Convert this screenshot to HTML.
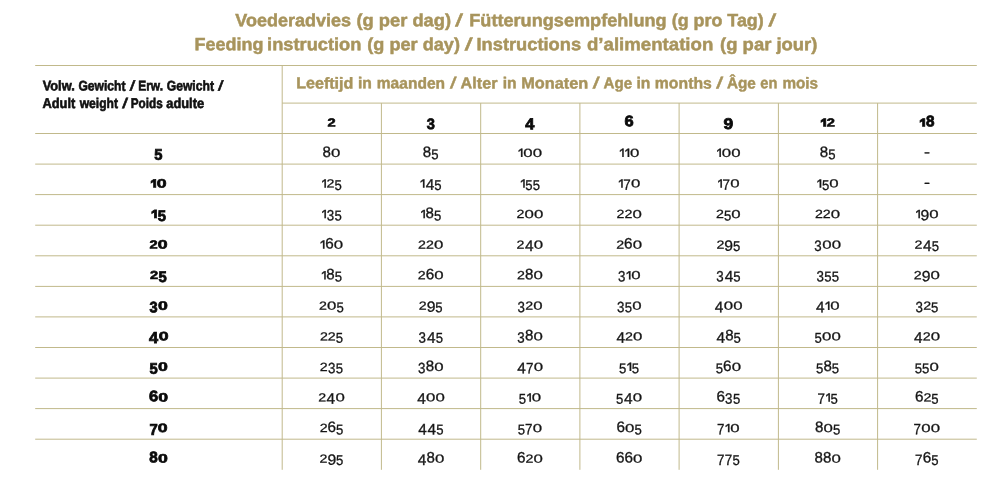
<!DOCTYPE html>
<html><head><meta charset="utf-8"><title>Voederadvies</title>
<style>
html,body{margin:0;padding:0;background:#fff}
#pg{position:relative;width:1008px;height:480px;background:#fff;overflow:hidden;font-family:"Liberation Sans",sans-serif;color:#161616}
#pg svg{position:absolute;left:0;top:0}
#tx{position:absolute;left:0;top:0;width:1008px;height:480px;will-change:transform;mix-blend-mode:multiply;text-rendering:geometricPrecision;filter:blur(.3px)}
.w{position:absolute;left:0;top:0;white-space:pre;transform-origin:0 0}
.t1{font-size:18px;line-height:18px;font-weight:bold;color:#a8945c;-webkit-text-stroke:.5px #a8945c}
.h1{font-size:16px;line-height:16px;font-weight:bold;color:#a8945c;-webkit-text-stroke:.45px #a8945c}
.l1{font-size:13.8px;line-height:14px;font-weight:bold;color:#111;-webkit-text-stroke:.6px #111}
.n{position:absolute;left:0;top:0;width:0;height:0}
.n span{position:absolute;left:0;top:0;font-size:14px;line-height:14px;transform-origin:0 0;white-space:pre;-webkit-text-stroke:0.30px #161616}
.k{font-weight:bold;color:#0a0a0a}
.k span{-webkit-text-stroke:0.70px #0a0a0a}
</style></head><body><div id="pg">
<svg width="1008" height="480" viewBox="0 0 1008 480">
<g stroke="#c1b98b" stroke-width="1" fill="none">
<path d="M35.2 65.5H976.8"/>
<path d="M282.2 103.1H976.8"/>
<path d="M35.2 133.5H976.8"/>
<path d="M35.2 164.1H976.8"/>
<path d="M35.2 194.6H976.8"/>
<path d="M35.2 225.2H976.8"/>
<path d="M35.2 255.8H976.8"/>
<path d="M35.2 286.4H976.8"/>
<path d="M35.2 316.9H976.8"/>
<path d="M35.2 347.5H976.8"/>
<path d="M35.2 378.1H976.8"/>
<path d="M35.2 408.6H976.8"/>
<path d="M35.2 439.2H976.8"/>
<path d="M282.2 65.5V469.8"/>
<path d="M381.4 103.1V469.8"/>
<path d="M480.7 103.1V469.8"/>
<path d="M579.9 103.1V469.8"/>
<path d="M679.1 103.1V469.8"/>
<path d="M778.4 103.1V469.8"/>
<path d="M877.6 103.1V469.8"/>
</g></svg>
<div id="tx">
<div class="ln"><span class="w t1" style="transform:matrix(1.0009,.001,0,0.985,235.25,11.38)">Voederadvies</span> <span class="w t1" style="transform:matrix(1.0185,.001,0,0.985,356.39,11.38)">(g per dag)</span> <span class="w t1" style="transform:matrix(1.1692,.001,-0.18,0.985,457.81,11.38)">/</span> <span class="w t1" style="transform:matrix(1.0070,.001,0,0.985,469.24,11.38)">Fütterungsempfehlung</span> <span class="w t1" style="transform:matrix(0.9934,.001,0,0.985,671.70,11.38)">(g pro Tag)</span> <span class="w t1" style="transform:matrix(1.1692,.001,-0.18,0.985,770.91,11.38)">/</span></div>
<div class="ln"><span class="w t1" style="transform:matrix(0.9985,.001,0,0.985,194.60,35.48)">Feeding</span> <span class="w t1" style="transform:matrix(1.0137,.001,0,0.985,267.09,35.48)">instruction</span> <span class="w t1" style="transform:matrix(1.0071,.001,0,0.985,367.25,35.48)">(g per day)</span> <span class="w t1" style="transform:matrix(1.2073,.001,-0.18,0.985,467.21,35.48)">/</span> <span class="w t1" style="transform:matrix(1.0158,.001,0,0.985,476.48,35.48)">Instructions</span> <span class="w t1" style="transform:matrix(1.0352,.001,0,0.985,586.98,35.48)">d’alimentation</span> <span class="w t1" style="transform:matrix(1.0245,.001,0,0.985,720.09,35.48)">(g par jour)</span></div>
<div class="ln"><span class="w h1" style="transform:matrix(1.0063,.001,0,0.985,296.15,76.54)">Leeftijd</span> <span class="w h1" style="transform:matrix(0.9804,.001,0,0.985,358.01,76.54)">in</span> <span class="w h1" style="transform:matrix(0.9731,.001,0,0.985,376.77,76.54)">maanden</span> <span class="w h1" style="transform:matrix(1.1224,.001,-0.18,0.985,452.01,76.54)">/</span> <span class="w h1" style="transform:matrix(1.0110,.001,0,0.985,460.60,76.54)">Alter</span> <span class="w h1" style="transform:matrix(0.9804,.001,0,0.985,502.76,76.54)">in</span> <span class="w h1" style="transform:matrix(1.0210,.001,0,0.985,521.13,76.54)">Monaten</span> <span class="w h1" style="transform:matrix(1.2002,.001,-0.18,0.985,594.76,76.54)">/</span> <span class="w h1" style="transform:matrix(0.9467,.001,0,0.985,603.50,76.54)">Age</span> <span class="w h1" style="transform:matrix(0.9843,.001,0,0.985,636.46,76.54)">in</span> <span class="w h1" style="transform:matrix(0.9850,.001,0,0.985,654.86,76.54)">months</span> <span class="w h1" style="transform:matrix(1.2002,.001,-0.18,0.985,718.26,76.54)">/</span> <span class="w h1" style="transform:matrix(0.9567,.001,0,0.985,726.90,76.54)">Âge</span> <span class="w h1" style="transform:matrix(0.9183,.001,0,0.985,760.37,76.54)">en</span> <span class="w h1" style="transform:matrix(0.9559,.001,0,0.985,782.38,76.54)">mois</span></div>
<div class="ln"><span class="w l1" style="transform:matrix(0.9299,.001,0,1.020,42.63,79.36)">Volw.</span> <span class="w l1" style="transform:matrix(0.8766,.001,0,1.020,78.38,79.36)">Gewicht</span> <span class="w l1" style="transform:matrix(1.0883,.001,-0.18,1.020,131.36,79.36)">/</span> <span class="w l1" style="transform:matrix(0.8655,.001,0,1.020,138.17,79.36)">Erw.</span> <span class="w l1" style="transform:matrix(0.8804,.001,0,1.020,166.68,79.36)">Gewicht</span> <span class="w l1" style="transform:matrix(1.0883,.001,-0.18,1.020,219.61,79.36)">/</span></div>
<div class="ln"><span class="w l1" style="transform:matrix(0.9324,.001,0,1.020,42.40,96.66)">Adult</span> <span class="w l1" style="transform:matrix(0.8757,.001,0,1.020,79.69,96.66)">weight</span> <span class="w l1" style="transform:matrix(1.1471,.001,-0.18,1.020,123.87,96.66)">/</span> <span class="w l1" style="transform:matrix(0.8517,.001,0,1.020,130.67,96.66)">Poids</span> <span class="w l1" style="transform:matrix(0.9321,.001,0,1.020,166.25,96.66)">adulte</span></div>
<div class="n k"><span style="transform:matrix(1.048,.001,0,0.831,327.45,116.54)">2</span></div>
<div class="n k"><span style="transform:matrix(1.045,.001,0,1.082,426.77,116.07)">3</span></div>
<div class="n k"><span style="transform:matrix(1.171,.001,0,1.132,525.34,115.61)">4</span></div>
<div class="n k"><span style="transform:matrix(1.178,.001,0,1.093,624.61,113.25)">6</span></div>
<div class="n k"><span style="transform:matrix(1.243,.001,0,1.103,723.62,115.83)">9</span></div>
<div class="n k"><span style="clip-path:inset(0 0 4.48px 0);transform:matrix(1.115,.001,0,1.146,819.99,115.89)">1</span><span style="transform:matrix(1.048,.001,0,0.831,826.87,116.54)">2</span></div>
<div class="n k"><span style="clip-path:inset(0 0 4.48px 0);transform:matrix(1.115,.001,0,1.146,918.99,115.89)">1</span><span style="transform:matrix(1.091,.001,0,1.093,925.92,113.25)">8</span></div>
<div class="n k"><span style="transform:matrix(1.057,.001,0,1.099,154.36,146.58)">5</span></div>
<div class="n"><span style="transform:matrix(1.077,.001,0,1.087,322.55,143.85)">8</span><span style="transform:matrix(1.201,.001,0,0.847,331.06,146.84)">0</span></div>
<div class="n"><span style="transform:matrix(1.077,.001,0,1.087,422.85,143.85)">8</span><span style="transform:matrix(0.937,.001,0,1.023,431.26,147.03)">5</span></div>
<div class="n"><span style="clip-path:inset(0 0 3.90px 0);transform:matrix(1.078,.001,0,1.065,517.29,146.34)">1</span><span style="transform:matrix(1.201,.001,0,0.847,523.25,146.84)">0</span><span style="transform:matrix(1.201,.001,0,0.847,532.75,146.84)">0</span></div>
<div class="n"><span style="clip-path:inset(0 0 3.90px 0);transform:matrix(1.078,.001,0,1.065,618.57,146.34)">1</span><span style="clip-path:inset(0 0 3.90px 0);transform:matrix(1.078,.001,0,1.065,623.97,146.34)">1</span><span style="transform:matrix(1.201,.001,0,0.847,629.93,146.84)">0</span></div>
<div class="n"><span style="clip-path:inset(0 0 3.90px 0);transform:matrix(1.078,.001,0,1.065,715.75,146.34)">1</span><span style="transform:matrix(1.201,.001,0,0.847,721.71,146.84)">0</span><span style="transform:matrix(1.201,.001,0,0.847,731.21,146.84)">0</span></div>
<div class="n"><span style="transform:matrix(1.077,.001,0,1.087,819.77,143.85)">8</span><span style="transform:matrix(0.937,.001,0,1.023,828.18,147.03)">5</span></div>
<div class="n"><span style="transform:matrix(1.291,.001,0,1.040,923.89,144.21)">-</span></div>
<div class="n k"><span style="clip-path:inset(0 0 4.48px 0);transform:matrix(1.115,.001,0,1.146,150.10,176.76)">1</span><span style="transform:matrix(1.264,.001,0,0.867,156.87,177.04)">0</span></div>
<div class="n"><span style="clip-path:inset(0 0 3.90px 0);transform:matrix(1.078,.001,0,1.065,320.73,176.91)">1</span><span style="transform:matrix(1.018,.001,0,0.854,326.55,177.30)">2</span><span style="transform:matrix(0.937,.001,0,1.023,334.43,177.60)">5</span></div>
<div class="n"><span style="clip-path:inset(0 0 3.90px 0);transform:matrix(1.078,.001,0,1.065,419.26,176.91)">1</span><span style="transform:matrix(1.101,.001,0,1.103,425.66,176.62)">4</span><span style="transform:matrix(0.937,.001,0,1.023,434.36,177.60)">5</span></div>
<div class="n"><span style="clip-path:inset(0 0 3.90px 0);transform:matrix(1.078,.001,0,1.065,519.44,176.91)">1</span><span style="transform:matrix(0.937,.001,0,1.023,525.29,177.60)">5</span><span style="transform:matrix(0.937,.001,0,1.023,532.64,177.60)">5</span></div>
<div class="n"><span style="clip-path:inset(0 0 3.90px 0);transform:matrix(1.078,.001,0,1.065,617.42,176.91)">1</span><span style="transform:matrix(0.960,.001,0,1.077,623.26,176.88)">7</span><span style="transform:matrix(1.201,.001,0,0.847,631.08,177.41)">0</span></div>
<div class="n"><span style="clip-path:inset(0 0 3.90px 0);transform:matrix(1.078,.001,0,1.065,716.65,176.91)">1</span><span style="transform:matrix(0.960,.001,0,1.077,722.49,176.88)">7</span><span style="transform:matrix(1.201,.001,0,0.847,730.31,177.41)">0</span></div>
<div class="n"><span style="clip-path:inset(0 0 3.90px 0);transform:matrix(1.078,.001,0,1.065,816.05,176.91)">1</span><span style="transform:matrix(0.937,.001,0,1.023,821.91,177.60)">5</span><span style="transform:matrix(1.201,.001,0,0.847,829.36,177.41)">0</span></div>
<div class="n"><span style="transform:matrix(1.291,.001,0,1.040,923.89,174.78)">-</span></div>
<div class="n k"><span style="clip-path:inset(0 0 4.48px 0);transform:matrix(1.115,.001,0,1.146,150.70,207.33)">1</span><span style="transform:matrix(1.057,.001,0,1.099,157.64,207.72)">5</span></div>
<div class="n"><span style="clip-path:inset(0 0 3.90px 0);transform:matrix(1.078,.001,0,1.065,320.65,207.48)">1</span><span style="transform:matrix(0.951,.001,0,1.077,326.68,207.51)">3</span><span style="transform:matrix(0.937,.001,0,1.023,334.51,208.17)">5</span></div>
<div class="n"><span style="clip-path:inset(0 0 3.90px 0);transform:matrix(1.078,.001,0,1.065,419.66,207.48)">1</span><span style="transform:matrix(1.077,.001,0,1.087,425.55,204.99)">8</span><span style="transform:matrix(0.937,.001,0,1.023,433.96,208.17)">5</span></div>
<div class="n"><span style="transform:matrix(1.018,.001,0,0.854,516.49,207.87)">2</span><span style="transform:matrix(1.201,.001,0,0.847,524.47,207.98)">0</span><span style="transform:matrix(1.201,.001,0,0.847,533.97,207.98)">0</span></div>
<div class="n"><span style="transform:matrix(1.018,.001,0,0.854,616.54,207.87)">2</span><span style="transform:matrix(1.018,.001,0,0.854,624.39,207.87)">2</span><span style="transform:matrix(1.201,.001,0,0.847,632.38,207.98)">0</span></div>
<div class="n"><span style="transform:matrix(1.018,.001,0,0.854,716.02,207.87)">2</span><span style="transform:matrix(0.937,.001,0,1.023,723.90,208.17)">5</span><span style="transform:matrix(1.201,.001,0,0.847,731.36,207.98)">0</span></div>
<div class="n"><span style="transform:matrix(1.018,.001,0,0.854,815.00,207.87)">2</span><span style="transform:matrix(1.018,.001,0,0.854,822.85,207.87)">2</span><span style="transform:matrix(1.201,.001,0,0.847,830.84,207.98)">0</span></div>
<div class="n"><span style="clip-path:inset(0 0 3.90px 0);transform:matrix(1.078,.001,0,1.065,914.66,207.48)">1</span><span style="transform:matrix(1.123,.001,0,1.067,920.48,207.33)">9</span><span style="transform:matrix(1.201,.001,0,0.847,929.22,207.98)">0</span></div>
<div class="n k"><span style="transform:matrix(1.048,.001,0,0.831,149.48,238.55)">2</span><span style="transform:matrix(1.264,.001,0,0.867,157.82,238.18)">0</span></div>
<div class="n"><span style="clip-path:inset(0 0 3.90px 0);transform:matrix(1.078,.001,0,1.065,319.35,238.05)">1</span><span style="transform:matrix(1.095,.001,0,1.087,325.18,235.56)">6</span><span style="transform:matrix(1.201,.001,0,0.847,333.76,238.55)">0</span></div>
<div class="n"><span style="transform:matrix(1.018,.001,0,0.854,418.08,238.44)">2</span><span style="transform:matrix(1.018,.001,0,0.854,425.93,238.44)">2</span><span style="transform:matrix(1.201,.001,0,0.847,433.92,238.55)">0</span></div>
<div class="n"><span style="transform:matrix(1.018,.001,0,0.854,516.61,238.44)">2</span><span style="transform:matrix(1.101,.001,0,1.103,525.04,237.76)">4</span><span style="transform:matrix(1.201,.001,0,0.847,533.85,238.55)">0</span></div>
<div class="n"><span style="transform:matrix(1.018,.001,0,0.854,616.24,238.44)">2</span><span style="transform:matrix(1.095,.001,0,1.087,624.09,235.56)">6</span><span style="transform:matrix(1.201,.001,0,0.847,632.68,238.55)">0</span></div>
<div class="n"><span style="transform:matrix(1.018,.001,0,0.854,716.47,238.44)">2</span><span style="transform:matrix(1.123,.001,0,1.067,724.32,237.90)">9</span><span style="transform:matrix(0.937,.001,0,1.023,732.95,238.74)">5</span></div>
<div class="n"><span style="transform:matrix(0.951,.001,0,1.077,814.30,238.08)">3</span><span style="transform:matrix(1.201,.001,0,0.847,822.24,238.55)">0</span><span style="transform:matrix(1.201,.001,0,0.847,831.74,238.55)">0</span></div>
<div class="n"><span style="transform:matrix(1.018,.001,0,0.854,914.61,238.44)">2</span><span style="transform:matrix(1.101,.001,0,1.103,923.03,237.76)">4</span><span style="transform:matrix(0.937,.001,0,1.023,931.74,238.74)">5</span></div>
<div class="n k"><span style="transform:matrix(1.048,.001,0,0.831,150.08,269.12)">2</span><span style="transform:matrix(1.057,.001,0,1.099,158.59,268.86)">5</span></div>
<div class="n"><span style="clip-path:inset(0 0 3.90px 0);transform:matrix(1.078,.001,0,1.065,320.43,268.62)">1</span><span style="transform:matrix(1.077,.001,0,1.087,326.32,266.13)">8</span><span style="transform:matrix(0.937,.001,0,1.023,334.73,269.31)">5</span></div>
<div class="n"><span style="transform:matrix(1.018,.001,0,0.854,417.78,269.01)">2</span><span style="transform:matrix(1.095,.001,0,1.087,425.63,266.13)">6</span><span style="transform:matrix(1.201,.001,0,0.847,434.22,269.12)">0</span></div>
<div class="n"><span style="transform:matrix(1.018,.001,0,0.854,517.01,269.01)">2</span><span style="transform:matrix(1.077,.001,0,1.087,524.93,266.13)">8</span><span style="transform:matrix(1.201,.001,0,0.847,533.45,269.12)">0</span></div>
<div class="n"><span style="transform:matrix(0.951,.001,0,1.077,617.89,268.65)">3</span><span style="clip-path:inset(0 0 3.90px 0);transform:matrix(1.078,.001,0,1.065,625.27,268.62)">1</span><span style="transform:matrix(1.201,.001,0,0.847,631.23,269.12)">0</span></div>
<div class="n"><span style="transform:matrix(0.951,.001,0,1.077,716.27,268.65)">3</span><span style="transform:matrix(1.101,.001,0,1.103,724.65,268.33)">4</span><span style="transform:matrix(0.937,.001,0,1.023,733.35,269.31)">5</span></div>
<div class="n"><span style="transform:matrix(0.951,.001,0,1.077,816.45,268.65)">3</span><span style="transform:matrix(0.937,.001,0,1.023,824.28,269.31)">5</span><span style="transform:matrix(0.937,.001,0,1.023,831.63,269.31)">5</span></div>
<div class="n"><span style="transform:matrix(1.018,.001,0,0.854,913.86,269.01)">2</span><span style="transform:matrix(1.123,.001,0,1.067,921.70,268.47)">9</span><span style="transform:matrix(1.201,.001,0,0.847,930.44,269.12)">0</span></div>
<div class="n k"><span style="transform:matrix(1.045,.001,0,1.082,149.58,299.22)">3</span><span style="transform:matrix(1.264,.001,0,0.867,157.89,299.32)">0</span></div>
<div class="n"><span style="transform:matrix(1.018,.001,0,0.854,319.10,299.58)">2</span><span style="transform:matrix(1.201,.001,0,0.847,327.09,299.69)">0</span><span style="transform:matrix(0.937,.001,0,1.023,336.48,299.88)">5</span></div>
<div class="n"><span style="transform:matrix(1.018,.001,0,0.854,418.78,299.58)">2</span><span style="transform:matrix(1.123,.001,0,1.067,426.63,299.04)">9</span><span style="transform:matrix(0.937,.001,0,1.023,435.26,299.88)">5</span></div>
<div class="n"><span style="transform:matrix(0.951,.001,0,1.077,517.44,299.22)">3</span><span style="transform:matrix(1.018,.001,0,0.854,525.24,299.58)">2</span><span style="transform:matrix(1.201,.001,0,0.847,533.22,299.69)">0</span></div>
<div class="n"><span style="transform:matrix(0.951,.001,0,1.077,616.92,299.22)">3</span><span style="transform:matrix(0.937,.001,0,1.023,624.75,299.88)">5</span><span style="transform:matrix(1.201,.001,0,0.847,632.20,299.69)">0</span></div>
<div class="n"><span style="transform:matrix(1.101,.001,0,1.103,714.82,298.90)">4</span><span style="transform:matrix(1.201,.001,0,0.847,723.63,299.69)">0</span><span style="transform:matrix(1.201,.001,0,0.847,733.13,299.69)">0</span></div>
<div class="n"><span style="transform:matrix(1.101,.001,0,1.103,816.10,298.90)">4</span><span style="clip-path:inset(0 0 3.90px 0);transform:matrix(1.078,.001,0,1.065,824.35,299.19)">1</span><span style="transform:matrix(1.201,.001,0,0.847,830.31,299.69)">0</span></div>
<div class="n"><span style="transform:matrix(0.951,.001,0,1.077,915.43,299.22)">3</span><span style="transform:matrix(1.018,.001,0,0.854,923.23,299.58)">2</span><span style="transform:matrix(0.937,.001,0,1.023,931.11,299.88)">5</span></div>
<div class="n k"><span style="transform:matrix(1.171,.001,0,1.132,148.91,329.33)">4</span><span style="transform:matrix(1.264,.001,0,0.867,158.69,329.89)">0</span></div>
<div class="n"><span style="transform:matrix(1.018,.001,0,0.854,319.93,330.15)">2</span><span style="transform:matrix(1.018,.001,0,0.854,327.78,330.15)">2</span><span style="transform:matrix(0.937,.001,0,1.023,335.66,330.45)">5</span></div>
<div class="n"><span style="transform:matrix(0.951,.001,0,1.077,418.58,329.79)">3</span><span style="transform:matrix(1.101,.001,0,1.103,426.96,329.47)">4</span><span style="transform:matrix(0.937,.001,0,1.023,435.66,330.45)">5</span></div>
<div class="n"><span style="transform:matrix(0.951,.001,0,1.077,517.14,329.79)">3</span><span style="transform:matrix(1.077,.001,0,1.087,525.01,327.27)">8</span><span style="transform:matrix(1.201,.001,0,0.847,533.52,330.26)">0</span></div>
<div class="n"><span style="transform:matrix(1.101,.001,0,1.103,616.42,329.47)">4</span><span style="transform:matrix(1.018,.001,0,0.854,625.09,330.15)">2</span><span style="transform:matrix(1.201,.001,0,0.847,633.08,330.26)">0</span></div>
<div class="n"><span style="transform:matrix(1.101,.001,0,1.103,716.42,329.47)">4</span><span style="transform:matrix(1.077,.001,0,1.087,725.17,327.27)">8</span><span style="transform:matrix(0.937,.001,0,1.023,733.58,330.45)">5</span></div>
<div class="n"><span style="transform:matrix(0.937,.001,0,1.023,814.46,330.45)">5</span><span style="transform:matrix(1.201,.001,0,0.847,821.91,330.26)">0</span><span style="transform:matrix(1.201,.001,0,0.847,831.41,330.26)">0</span></div>
<div class="n"><span style="transform:matrix(1.101,.001,0,1.103,914.11,329.47)">4</span><span style="transform:matrix(1.018,.001,0,0.854,922.78,330.15)">2</span><span style="transform:matrix(1.201,.001,0,0.847,930.77,330.26)">0</span></div>
<div class="n k"><span style="transform:matrix(1.057,.001,0,1.099,149.41,360.57)">5</span><span style="transform:matrix(1.264,.001,0,0.867,157.94,360.46)">0</span></div>
<div class="n"><span style="transform:matrix(1.018,.001,0,0.854,319.85,360.72)">2</span><span style="transform:matrix(0.951,.001,0,1.077,327.90,360.36)">3</span><span style="transform:matrix(0.937,.001,0,1.023,335.73,361.02)">5</span></div>
<div class="n"><span style="transform:matrix(0.951,.001,0,1.077,417.91,360.36)">3</span><span style="transform:matrix(1.077,.001,0,1.087,425.78,357.84)">8</span><span style="transform:matrix(1.201,.001,0,0.847,434.29,360.83)">0</span></div>
<div class="n"><span style="transform:matrix(1.101,.001,0,1.103,517.26,360.04)">4</span><span style="transform:matrix(0.960,.001,0,1.077,525.95,360.30)">7</span><span style="transform:matrix(1.201,.001,0,0.847,533.77,360.83)">0</span></div>
<div class="n"><span style="transform:matrix(0.937,.001,0,1.023,619.12,361.02)">5</span><span style="clip-path:inset(0 0 3.90px 0);transform:matrix(1.078,.001,0,1.065,626.02,360.33)">1</span><span style="transform:matrix(0.937,.001,0,1.023,631.87,361.02)">5</span></div>
<div class="n"><span style="transform:matrix(0.937,.001,0,1.023,715.75,361.02)">5</span><span style="transform:matrix(1.095,.001,0,1.087,723.07,357.84)">6</span><span style="transform:matrix(1.201,.001,0,0.847,731.66,360.83)">0</span></div>
<div class="n"><span style="transform:matrix(0.937,.001,0,1.023,816.06,361.02)">5</span><span style="transform:matrix(1.077,.001,0,1.087,823.45,357.84)">8</span><span style="transform:matrix(0.937,.001,0,1.023,831.86,361.02)">5</span></div>
<div class="n"><span style="transform:matrix(0.937,.001,0,1.023,914.76,361.02)">5</span><span style="transform:matrix(0.937,.001,0,1.023,922.11,361.02)">5</span><span style="transform:matrix(1.201,.001,0,0.847,929.57,360.83)">0</span></div>
<div class="n k"><span style="transform:matrix(1.178,.001,0,1.093,148.96,388.11)">6</span><span style="transform:matrix(1.264,.001,0,0.867,158.29,391.03)">0</span></div>
<div class="n"><span style="transform:matrix(1.018,.001,0,0.854,318.15,391.29)">2</span><span style="transform:matrix(1.101,.001,0,1.103,326.58,390.61)">4</span><span style="transform:matrix(1.201,.001,0,0.847,335.39,391.40)">0</span></div>
<div class="n"><span style="transform:matrix(1.101,.001,0,1.103,417.13,390.61)">4</span><span style="transform:matrix(1.201,.001,0,0.847,425.94,391.40)">0</span><span style="transform:matrix(1.201,.001,0,0.847,435.44,391.40)">0</span></div>
<div class="n"><span style="transform:matrix(0.937,.001,0,1.023,518.82,391.59)">5</span><span style="clip-path:inset(0 0 3.90px 0);transform:matrix(1.078,.001,0,1.065,525.71,390.90)">1</span><span style="transform:matrix(1.201,.001,0,0.847,531.67,391.40)">0</span></div>
<div class="n"><span style="transform:matrix(0.937,.001,0,1.023,616.12,391.59)">5</span><span style="transform:matrix(1.101,.001,0,1.103,624.02,390.61)">4</span><span style="transform:matrix(1.201,.001,0,0.847,632.83,391.40)">0</span></div>
<div class="n"><span style="transform:matrix(1.095,.001,0,1.087,716.47,388.41)">6</span><span style="transform:matrix(0.951,.001,0,1.077,725.12,390.93)">3</span><span style="transform:matrix(0.937,.001,0,1.023,732.95,391.59)">5</span></div>
<div class="n"><span style="transform:matrix(0.960,.001,0,1.077,817.39,390.87)">7</span><span style="clip-path:inset(0 0 3.90px 0);transform:matrix(1.078,.001,0,1.065,824.65,390.90)">1</span><span style="transform:matrix(0.937,.001,0,1.023,830.51,391.59)">5</span></div>
<div class="n"><span style="transform:matrix(1.095,.001,0,1.087,915.01,388.41)">6</span><span style="transform:matrix(1.018,.001,0,0.854,923.46,391.29)">2</span><span style="transform:matrix(0.937,.001,0,1.023,931.34,391.59)">5</span></div>
<div class="n k"><span style="transform:matrix(1.059,.001,0,1.113,149.38,421.28)">7</span><span style="transform:matrix(1.264,.001,0,0.867,157.79,421.60)">0</span></div>
<div class="n"><span style="transform:matrix(1.018,.001,0,0.854,319.63,421.86)">2</span><span style="transform:matrix(1.095,.001,0,1.087,327.48,418.98)">6</span><span style="transform:matrix(0.937,.001,0,1.023,335.96,422.16)">5</span></div>
<div class="n"><span style="transform:matrix(1.101,.001,0,1.103,418.33,421.18)">4</span><span style="transform:matrix(1.101,.001,0,1.103,427.58,421.18)">4</span><span style="transform:matrix(0.937,.001,0,1.023,436.29,422.16)">5</span></div>
<div class="n"><span style="transform:matrix(0.937,.001,0,1.023,517.67,422.16)">5</span><span style="transform:matrix(0.960,.001,0,1.077,525.00,421.44)">7</span><span style="transform:matrix(1.201,.001,0,0.847,532.82,421.97)">0</span></div>
<div class="n"><span style="transform:matrix(1.095,.001,0,1.087,616.49,418.98)">6</span><span style="transform:matrix(1.201,.001,0,0.847,625.08,421.97)">0</span><span style="transform:matrix(0.937,.001,0,1.023,634.47,422.16)">5</span></div>
<div class="n"><span style="transform:matrix(0.960,.001,0,1.077,717.09,421.44)">7</span><span style="clip-path:inset(0 0 3.90px 0);transform:matrix(1.078,.001,0,1.065,724.35,421.47)">1</span><span style="transform:matrix(1.201,.001,0,0.847,730.31,421.97)">0</span></div>
<div class="n"><span style="transform:matrix(1.077,.001,0,1.087,815.02,418.98)">8</span><span style="transform:matrix(1.201,.001,0,0.847,823.54,421.97)">0</span><span style="transform:matrix(0.937,.001,0,1.023,832.93,422.16)">5</span></div>
<div class="n"><span style="transform:matrix(0.960,.001,0,1.077,913.50,421.44)">7</span><span style="transform:matrix(1.201,.001,0,0.847,921.32,421.97)">0</span><span style="transform:matrix(1.201,.001,0,0.847,930.82,421.97)">0</span></div>
<div class="n k"><span style="transform:matrix(1.091,.001,0,1.093,149.30,449.25)">8</span><span style="transform:matrix(1.264,.001,0,0.867,158.04,452.17)">0</span></div>
<div class="n"><span style="transform:matrix(1.018,.001,0,0.854,319.55,452.43)">2</span><span style="transform:matrix(1.123,.001,0,1.067,327.40,451.89)">9</span><span style="transform:matrix(0.937,.001,0,1.023,336.03,452.73)">5</span></div>
<div class="n"><span style="transform:matrix(1.101,.001,0,1.103,417.66,451.75)">4</span><span style="transform:matrix(1.077,.001,0,1.087,426.40,449.55)">8</span><span style="transform:matrix(1.201,.001,0,0.847,434.92,452.54)">0</span></div>
<div class="n"><span style="transform:matrix(1.095,.001,0,1.087,517.01,449.55)">6</span><span style="transform:matrix(1.018,.001,0,0.854,525.46,452.43)">2</span><span style="transform:matrix(1.201,.001,0,0.847,533.45,452.54)">0</span></div>
<div class="n"><span style="transform:matrix(1.095,.001,0,1.087,615.94,449.55)">6</span><span style="transform:matrix(1.095,.001,0,1.087,624.39,449.55)">6</span><span style="transform:matrix(1.201,.001,0,0.847,632.98,452.54)">0</span></div>
<div class="n"><span style="transform:matrix(0.960,.001,0,1.077,717.01,452.01)">7</span><span style="transform:matrix(0.960,.001,0,1.077,724.71,452.01)">7</span><span style="transform:matrix(0.937,.001,0,1.023,732.43,452.73)">5</span></div>
<div class="n"><span style="transform:matrix(1.077,.001,0,1.087,814.47,449.55)">8</span><span style="transform:matrix(1.077,.001,0,1.087,822.92,449.55)">8</span><span style="transform:matrix(1.201,.001,0,0.847,831.44,452.54)">0</span></div>
<div class="n"><span style="transform:matrix(0.960,.001,0,1.077,915.10,452.01)">7</span><span style="transform:matrix(1.095,.001,0,1.087,922.78,449.55)">6</span><span style="transform:matrix(0.937,.001,0,1.023,931.26,452.73)">5</span></div>
</div></div></body></html>
